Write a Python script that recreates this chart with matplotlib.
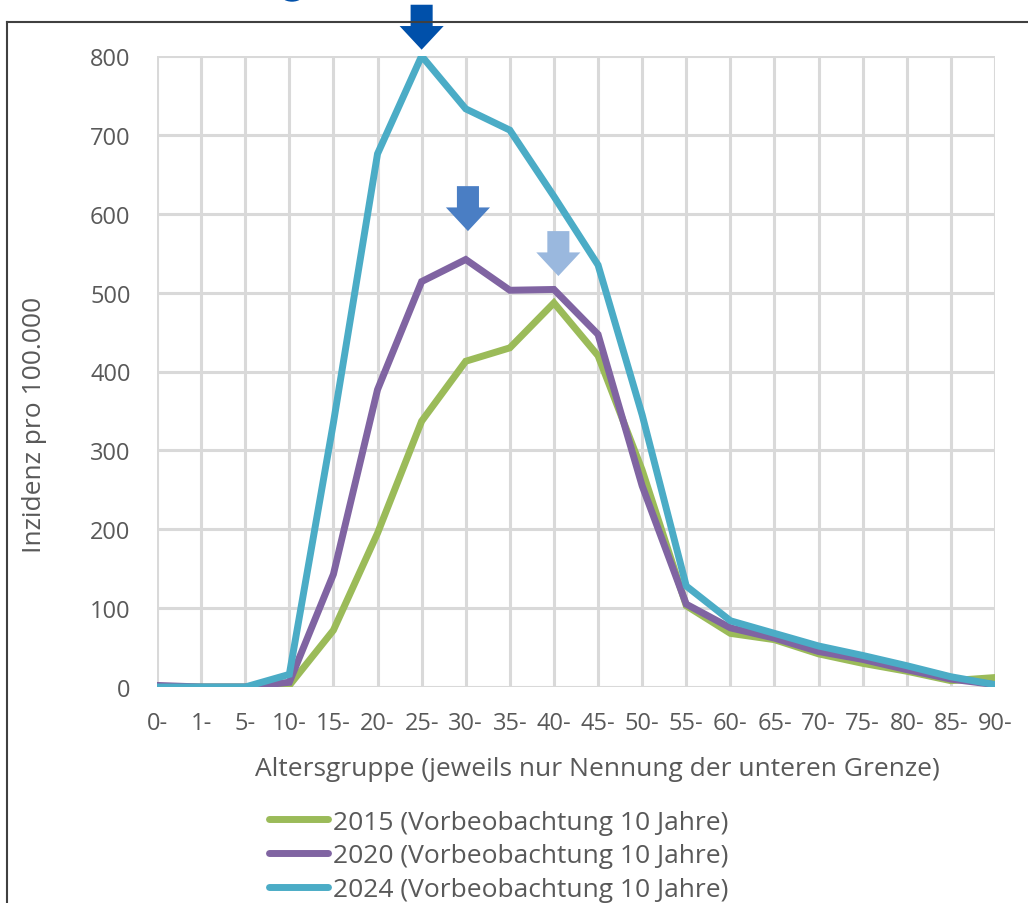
import matplotlib.pyplot as plt
from matplotlib.patches import Ellipse, FancyArrow
import numpy as np

plt.rcParams['font.family'] = ['Open Sans', 'DejaVu Sans']

# age groups (lower bound only)
groups = ['0-', '1-', '5-', '10-', '15-', '20-', '25-', '30-', '35-', '40-',
          '45-', '50-', '55-', '60-', '65-', '70-', '75-', '80-', '85-', '90-']

inc_2015 = [0, 0, 0, 2, 72, 195, 337, 413, 430, 487,
            420, 275, 103, 68, 60, 42, 30, 20, 8, 12]
inc_2020 = [2, 0, 0, 6, 143, 377, 514, 542, 503, 504,
            447, 255, 105, 75, 62, 45, 35, 22, 10, 3]
inc_2024 = [0, 0, 0, 16, 335, 676, 800, 733, 706, 622,
            535, 345, 128, 84, 68, 52, 40, 27, 13, 3]

labels = ['2015 (Vorbeobachtung 10 Jahre)',
          '2020 (Vorbeobachtung 10 Jahre)',
          '2024 (Vorbeobachtung 10 Jahre)']
colors = ['#9BBB59', '#8064A2', '#4BACC6']

# peak markers: x position (category index), tip value, colour
arrow_x = [6.0, 7.05, 9.1]
arrow_tip = [808, 578, 521]
arrow_col = ['#0050AA', '#4A7EC4', '#9AB8DE']

fig = plt.figure(figsize=(10.28, 9.04), dpi=100)
ax = fig.add_axes([157 / 1028, 1 - 688 / 904, (995 - 157) / 1028, (688 - 57) / 904])

x = np.arange(len(groups))
for vals, lab, c in zip([inc_2015, inc_2020, inc_2024], labels, colors):
    ax.plot(x, vals, color=c, lw=5, label=lab, solid_capstyle='round',
            solid_joinstyle='miter')

ax.set_xlim(0, len(groups) - 1)
ax.set_ylim(0, 800)
ax.set_yticks(range(0, 801, 100))
ax.set_xticks(x)
ax.set_xticklabels(groups)
ax.grid(True, color='#D9D9D9', lw=2.2)
ax.set_axisbelow(True)
for s in ax.spines.values():
    s.set_visible(False)
ax.tick_params(length=0, labelsize=17, colors='#595959')
ax.tick_params(axis='x', pad=17)
ax.tick_params(axis='y', pad=19)

for ax_x, tip, c in zip(arrow_x, arrow_tip, arrow_col):
    ax.add_patch(FancyArrow(ax_x, tip + 57, 0, -57, width=0.5, head_width=1.0,
                            head_length=30, length_includes_head=True,
                            color=c, lw=0, clip_on=False, zorder=5))

fig.text(597 / 1028, 1 - 770 / 904, 'Altersgruppe (jeweils nur Nennung der unteren Grenze)',
         ha='center', va='center', fontsize=19, color='#595959')
fig.text(35 / 1028, 1 - 425 / 904, 'Inzidenz pro 100.000', rotation=90,
         ha='center', va='center', fontsize=19, color='#595959')

leg = fig.legend(loc='upper left', bbox_to_anchor=(258 / 1028, 1 - 800 / 904),
                 frameon=False, fontsize=19, handlelength=2.25, handletextpad=0.2,
                 labelspacing=0.33, borderaxespad=0)
for t in leg.get_texts():
    t.set_color('#595959')

# outer frame and cut-off element at top
fig.add_artist(plt.Line2D([7 / 1028, 7 / 1028], [0, 1 - 23 / 904], color='#404040', lw=1.5))
fig.add_artist(plt.Line2D([7 / 1028, 1], [1 - 23 / 904, 1 - 23 / 904], color='#404040', lw=1.5))
fig.add_artist(Ellipse((292 / 1028, 1 + 8 / 904), 26 / 1028, 20 / 904,
                       color='#0050AA', transform=fig.transFigure))

fig.savefig('out.png', dpi=100)
